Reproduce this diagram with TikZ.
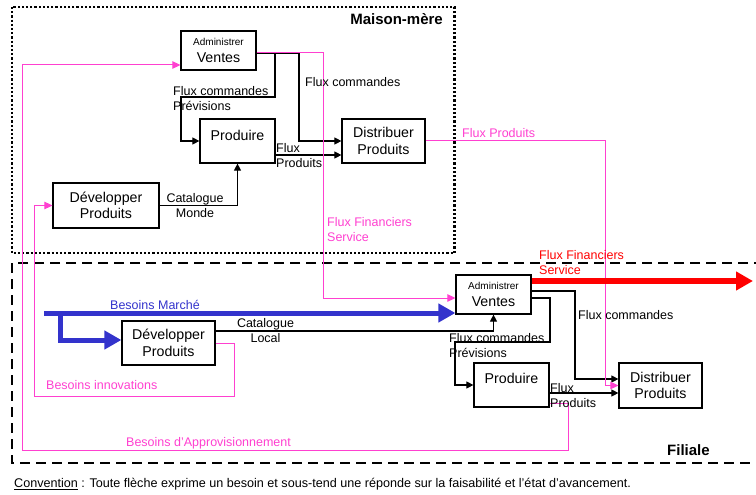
\documentclass[tikz,border=0pt]{standalone}
\usepackage{fontspec}
\setmainfont{Liberation Sans}
\usetikzlibrary{arrows.meta}
\definecolor{fluxpink}{RGB}{255,64,208}
\definecolor{fluxblue}{RGB}{51,51,204}

\begin{document}
\begin{tikzpicture}[x=1pt, y=-1pt,
  box/.style={draw, line width=1.2pt, align=center, inner sep=0pt, font=\fontsize{14.2}{16.5}\selectfont},
  lbl/.style={inner sep=0pt, align=left, font=\fontsize{12.5}{15}\selectfont},
  titre/.style={inner sep=0pt, font=\bfseries\fontsize{15}{18}\selectfont},
  flux/.style={line width=1.1pt, -{Triangle[length=7pt,width=7pt]}},
  besoin/.style={draw=fluxpink, line width=1pt, -{Triangle[length=8pt,width=7.5pt]}},
  marche/.style={draw=fluxblue, line width=5pt, line join=miter, -{Triangle[length=17pt,width=18pt]}},
  argent/.style={draw=red, line width=6pt, -{Triangle[length=17pt,width=18pt]}},
  siege/.style={line width=2.5pt, dash pattern=on 2.2pt off 2pt},
  local/.style={line width=2.5pt, dash pattern=on 10pt off 6pt}]
\useasboundingbox (0,0) rectangle (756,495);
\clip (0,0) rectangle (756,495);

\draw [siege] (12,7) rectangle (454.5,253);
\draw [local] (12,263) rectangle (780,463);

\node [box, minimum width=75pt, minimum height=39pt] (mvente) at (218.5,50.5) {{\fontsize{10}{12}\selectfont Administrer}\\Ventes};
\node [box, minimum width=75pt, minimum height=44pt, text depth=12pt] (mprod) at (237.5,141) {Produire};
\node [box, minimum width=83pt, minimum height=44pt] (mdist) at (383.5,141) {Distribuer\\Produits};
\node [box, minimum width=106pt, minimum height=45pt] (mdev) at (106,205.5) {Développer\\Produits};

\node [box, minimum width=75pt, minimum height=39pt] (fvente) at (493.5,294.5) {{\fontsize{10}{12}\selectfont Administrer}\\Ventes};
\node [box, minimum width=75pt, minimum height=44pt, text depth=13pt] (fprod) at (511.5,385) {Produire};
\node [box, minimum width=83pt, minimum height=45pt] (fdist) at (660.5,385.5) {Distribuer\\Produits};
\node [box, minimum width=93pt, minimum height=44pt] (fdev) at (168.5,343) {Développer\\Produits};

\coordinate (marchedebut) at (44,313);
\coordinate (marchebranche) at (60,313);
\coordinate (argentsortie) at (753,281);

\draw [flux] ([yshift=-2.5]mvente.east) -| (275,97) -| (181,141) -- (mprod.west);
\draw [flux] ([yshift=-2.5]mvente.east) -| (299,141) -- (mdist.west);
\draw [flux] ([yshift=-14]mprod.east) -- ([yshift=-14]mdist.west);
\draw [flux] (mdev.east) -| (mprod.south);

\draw [flux] ([yshift=3.5]fvente.east) -| (575,379) -- ([yshift=6.5]fdist.west);
\draw [flux] ([yshift=-3.5]fvente.east) -| (550,342) -| (455,385) -- (fprod.west);
\draw [flux] ([yshift=12]fdev.east) -| (fvente.south);
\draw [flux] ([yshift=-8]fprod.east) -- ([yshift=-7.5]fdist.west);

\draw [besoin] ([yshift=-2.5]mvente.east) -| (323,298) -- ([yshift=-3.5]fvente.west);
\draw [besoin] (mdist.east) -| (605,385.5) -- (fdist.west);
\draw [besoin] ([yshift=-18]fprod.east) -| (568,450) -| (22,65) -- ([yshift=-14.5]mvente.west);
\draw [besoin] (fdev.east) -| (234,396) -| (34,205.5) -- (mdev.west);

\draw [marche] (marchedebut) -- ([yshift=-18.5]fvente.west);
\draw [marche] (marchebranche) |- ([yshift=3]fdev.west);
\draw [argent] ([yshift=13.5]fvente.east) -- (argentsortie);

\node [titre, anchor=north east] (tsiege) at (443,13) {Maison-mère};
\node [titre, anchor=north west] (tfiliale) at (667,444) {Filiale};

\node [lbl, anchor=north west] (l1) at (173,86) {Flux commandes\\Prévisions};
\node [lbl, anchor=north west] (l2) at (305,77) {Flux commandes};
\node [lbl, anchor=north west] (l3) at (276,143) {Flux\\Produits};
\node [lbl, align=center, anchor=north] (l4) at (195,193) {Catalogue\\Monde};
\node [lbl, anchor=north west, text=fluxpink] (l5) at (327,217) {Flux Financiers\\Service};
\node [lbl, anchor=north west, text=fluxpink] (l6) at (462,128) {Flux Produits};

\node [lbl, anchor=north west, text=fluxblue] (l7) at (110,300) {Besoins Marché};
\node [lbl, align=center, anchor=north] (l8) at (265.5,318) {Catalogue\\Local};
\node [lbl, anchor=north west, text=fluxpink] (l9) at (46,380) {Besoins innovations};
\node [lbl, anchor=north west, text=fluxpink] (l10) at (126,437) {Besoins d'Approvisionnement};
\node [lbl, anchor=north west, text=red] (l11) at (539,250) {Flux Financiers\\Service};
\node [lbl, anchor=north west] (l12) at (578,310) {Flux commandes};
\node [lbl, anchor=north west] (l13) at (449,333) {Flux commandes\\Prévisions};
\node [lbl, anchor=north west] (l14) at (550,383) {Flux\\Produits};

\node [inner sep=0pt, anchor=north west, font=\fontsize{12.6}{15}\selectfont] (conv) at (14,478) {\underline{Convention} : Toute flèche exprime un besoin et sous-tend une réponde sur la faisabilité et l'état d'avancement.};
\end{tikzpicture}
\end{document}
